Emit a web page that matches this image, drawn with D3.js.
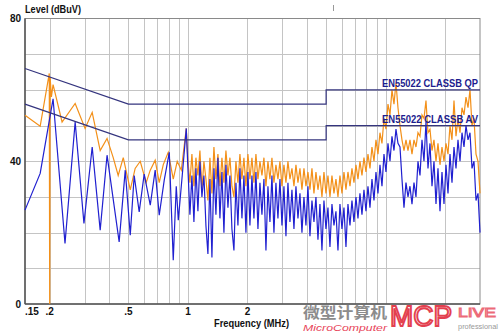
<!DOCTYPE html>
<html>
  <head>
    <meta charset="utf-8">
    <title>EN55022 conducted emission scan</title>
    <script src="https://d3js.org/d3.v7.min.js"></script>
    <style>
      body { margin: 0; background: #fff; }
      text { font-family: "Liberation Sans", Arial, sans-serif; }
      .grid line { stroke: #c4c4c4; stroke-width: 1; }
      .lbl { font-size: 10px; font-weight: bold; fill: #111; }
      .limit { fill: none; stroke: #34347e; stroke-width: 1.2; }
      .limitname { font-size: 11px; font-weight: bold; fill: #1c1c8e; }
    </style>
  </head>
  <body>
    <div id="chart"></div>
    <script>
      // peak (orange) and average (blue) sweeps below 1 MHz, [MHz, dBuV]
      const peakSweep = [
        [0.15, 52.9], [0.179, 49.8], [0.199, 64.6], [0.2, 0], [0.201, 63.5], [0.204, 58],
        [0.208, 61.5], [0.231, 51], [0.269, 56.2], [0.302, 49.2], [0.328, 53.7], [0.360, 43],
        [0.390, 46.4], [0.419, 41], [0.444, 36], [0.471, 41], [0.511, 32], [0.541, 38],
        [0.574, 40], [0.615, 34], [0.645, 37.5], [0.683, 40.3], [0.716, 34], [0.750, 39],
        [0.795, 42.5], [0.843, 35], [0.883, 40], [0.926, 37.5], [0.981, 49.2]
      ];
      const avgSweep = [
        [0.15, 26.3], [0.179, 36.6], [0.208, 57.5], [0.239, 17], [0.269, 51], [0.298, 22.6],
        [0.328, 44], [0.360, 20.7], [0.390, 41.7], [0.449, 17.4], [0.482, 37.5], [0.511, 19.3],
        [0.535, 36], [0.567, 25.8], [0.601, 36.4], [0.645, 27.7], [0.683, 37.5], [0.716, 24.9],
        [0.759, 34.7], [0.805, 42.5], [0.843, 12.3], [0.873, 33], [0.894, 23.5], [0.936, 36],
        [0.981, 49.2]
      ];

      // 1 - 30 MHz part of the sweep, log spaced points (dBuV)
      const denseStart = 1, denseStop = 30;
      const peakDense = [
        40, 34, 42, 33, 41, 36, 43, 32, 40, 35,
        29, 41, 31, 44, 35, 42, 33, 41, 34, 43,
        36, 41, 33, 30, 40, 34, 42, 35, 41, 33,
        42, 35, 41, 34, 42, 35, 40, 36, 41, 33,
        40, 35, 41, 34, 39, 35, 40, 33, 39, 34,
        40, 35, 38, 33, 39, 34, 38, 32, 38, 33,
        37, 32, 38, 31, 37, 32, 36, 30, 37, 31,
        36, 30, 36, 31, 35, 30, 36, 31, 37, 32,
        37, 33, 38, 34, 39, 35, 40, 36, 41, 37,
        42, 38, 44, 40, 46, 42, 48, 45, 52, 49,
        56, 53, 60, 56, 62, 55, 50, 46, 43, 46,
        43, 46, 42, 46, 44, 48, 47, 53, 52, 57,
        48, 49, 43, 46, 40, 45, 39, 44, 40, 45,
        42, 50, 46, 57, 47, 52, 48, 55, 53, 58,
        55, 60, 50, 52, 42, 40, 31
      ];
      const avgDense = [
        38, 25, 36, 23, 38, 26, 40, 30, 36, 22,
        14, 35, 13, 38, 25, 41, 24, 37, 20, 39,
        27, 36, 21, 15, 34, 22, 38, 24, 36, 20,
        37, 22, 36, 24, 37, 21, 34, 25, 35, 15,
        33, 23, 36, 20, 34, 24, 35, 22, 33, 19,
        34, 23, 32, 21, 33, 24, 31, 20, 30, 22,
        33, 19, 29, 23, 30, 18, 28, 15, 29, 21,
        27, 16, 28, 22, 26, 15, 28, 21, 27, 16,
        28, 22, 29, 23, 30, 24, 31, 25, 32, 26,
        33, 27, 35, 29, 37, 31, 39, 33, 42, 37,
        45, 40, 47, 43, 49, 45, 44, 35, 27, 34,
        30, 33, 28, 34, 30, 40, 36, 46, 40, 51,
        38, 45, 33, 40, 28, 38, 26, 37, 28, 39,
        31, 42, 34, 44, 38, 46, 40, 48, 44, 50,
        46, 48, 38, 40, 29, 31, 20
      ];

      const qpLimit = [[0.15, 66], [0.5, 56], [5, 56], [5, 60], [30, 60]];
      const avLimit = [[0.15, 56], [0.5, 46], [5, 46], [5, 50], [30, 50]];

      const xGridValues = [0.2, 0.3, 0.4, 0.5, 0.6, 0.7, 0.8, 0.9, 1, 2, 3, 4, 5, 6, 7, 8, 9, 10, 20];
      // labels from 5 MHz upwards sit under the publisher's logo in the source
      const xTickLabels = [[0.2, ".2"], [0.5, ".5"], [1, "1"], [2, "2"]];
      const yGridValues = [10, 20, 30, 40, 50, 60, 70];
      const yTickLabels = [0, 40, 80];

      const width = 500, height = 334;
      const plotLeft = 25, plotRight = 480, plotTop = 18.5, plotBottom = 304;

      const svg = d3.select("#chart").append("svg")
        .attr("width", width)
        .attr("height", height);

      const x = d3.scaleLog().domain([0.15, 30]).range([plotLeft, plotRight]);
      const y = d3.scaleLinear().domain([0, 80]).range([plotBottom, plotTop]);

      // grid
      const grid = svg.append("g").attr("class", "grid");
      grid.selectAll(".vx").data(xGridValues).enter().append("line")
        .attr("x1", d => Math.round(x(d)) + 0.5).attr("x2", d => Math.round(x(d)) + 0.5)
        .attr("y1", plotTop).attr("y2", plotBottom);
      grid.selectAll(".hy").data(yGridValues).enter().append("line")
        .attr("x1", plotLeft).attr("x2", plotRight)
        .attr("y1", d => Math.round(y(d)) + 0.5).attr("y2", d => Math.round(y(d)) + 0.5);

      // frame
      svg.append("rect")
        .attr("x", plotLeft).attr("y", plotTop)
        .attr("width", plotRight - plotLeft).attr("height", plotBottom - plotTop)
        .attr("fill", "none").attr("stroke", "#8a8a8a").attr("stroke-width", 1);
      svg.append("line")
        .attr("x1", plotLeft).attr("x2", plotLeft).attr("y1", plotTop).attr("y2", plotBottom)
        .attr("stroke", "#555").attr("stroke-width", 1.5);
      svg.append("line")
        .attr("x1", plotLeft).attr("x2", plotRight).attr("y1", plotBottom).attr("y2", plotBottom)
        .attr("stroke", "#555").attr("stroke-width", 1.5);

      const denseFreq = d3.range(peakDense.length)
        .map(i => denseStart * Math.pow(denseStop / denseStart, i / (peakDense.length - 1)));
      const peakData = peakSweep.concat(denseFreq.map((f, i) => [f, peakDense[i]]));
      const avgData = avgSweep.concat(denseFreq.map((f, i) => [f, avgDense[i]]));

      const line = d3.line().x(d => x(d[0])).y(d => y(d[1]));

      svg.append("path").datum(peakData)
        .attr("d", line)
        .attr("fill", "none")
        .attr("stroke", "#f39019")
        .attr("stroke-width", 1.2);
      svg.append("path").datum(avgData)
        .attr("d", line)
        .attr("fill", "none")
        .attr("stroke", "#2020d0")
        .attr("stroke-width", 1.2);

      // limit lines
      svg.append("path").datum(qpLimit).attr("class", "limit").attr("d", line);
      svg.append("path").datum(avLimit).attr("class", "limit").attr("d", line);

      svg.append("text").attr("class", "limitname")
        .attr("x", 478).attr("y", y(60) - 2.5)
        .attr("text-anchor", "end")
        .attr("textLength", 96).attr("lengthAdjust", "spacingAndGlyphs")
        .text("EN55022 CLASSB QP");
      svg.append("text").attr("class", "limitname")
        .attr("x", 478).attr("y", y(50) - 2.5)
        .attr("text-anchor", "end")
        .attr("textLength", 96).attr("lengthAdjust", "spacingAndGlyphs")
        .text("EN55022 CLASSB AV");

      // axis labels
      svg.append("text").attr("class", "lbl")
        .attr("x", 25).attr("y", 13)
        .attr("textLength", 56).attr("lengthAdjust", "spacingAndGlyphs")
        .text("Level (dBuV)");

      svg.selectAll(".ylab").data(yTickLabels).enter().append("text")
        .attr("class", "lbl")
        .attr("x", 21).attr("y", d => y(d) + 3.5)
        .attr("text-anchor", "end")
        .text(d => d);

      svg.append("text").attr("class", "lbl")
        .attr("x", 25).attr("y", 315)
        .text(".15");
      svg.selectAll(".xlab").data(xTickLabels).enter().append("text")
        .attr("class", "lbl")
        .attr("x", d => x(d[0])).attr("y", 315)
        .attr("text-anchor", "middle")
        .text(d => d[1]);

      svg.append("text").attr("class", "lbl")
        .attr("x", 214).attr("y", 327)
        .attr("textLength", 75).attr("lengthAdjust", "spacingAndGlyphs")
        .text("Frequency (MHz)");

      svg.append("line")
        .attr("x1", 333.5).attr("x2", 333.5).attr("y1", 5).attr("y2", 11)
        .attr("stroke", "#999");

      // watermark
      const wm = svg.append("g");
      wm.append("text")
        .attr("x", 303).attr("y", 318)
        .attr("textLength", 84).attr("lengthAdjust", "spacingAndGlyphs")
        .style("font-family", "'Noto Sans CJK SC'").style("font-weight", "bold")
        .style("font-size", "15px").attr("fill", "#8c8c8c")
        .text("微型计算机");
      wm.append("text")
        .attr("x", 303).attr("y", 331)
        .attr("textLength", 84).attr("lengthAdjust", "spacingAndGlyphs")
        .style("font-size", "9px").style("font-style", "italic")
        .attr("fill", "#e8455a")
        .text("MicroComputer");
      wm.append("text")
        .attr("x", 390).attr("y", 326)
        .attr("textLength", 62).attr("lengthAdjust", "spacingAndGlyphs")
        .style("font-size", "30px")
        .attr("fill", "#fff").attr("stroke", "#e3404f").attr("stroke-width", 2)
        .text("MCP");
      wm.append("text")
        .attr("x", 458).attr("y", 317)
        .attr("textLength", 38).attr("lengthAdjust", "spacingAndGlyphs")
        .style("font-size", "13px")
        .attr("fill", "#fff").attr("stroke", "#ec6a78").attr("stroke-width", 1)
        .text("LIVE");
      wm.append("text")
        .attr("x", 458).attr("y", 329)
        .attr("textLength", 40).attr("lengthAdjust", "spacingAndGlyphs")
        .style("font-size", "8px")
        .attr("fill", "#999")
        .text("professional");
    </script>
  </body>
</html>
